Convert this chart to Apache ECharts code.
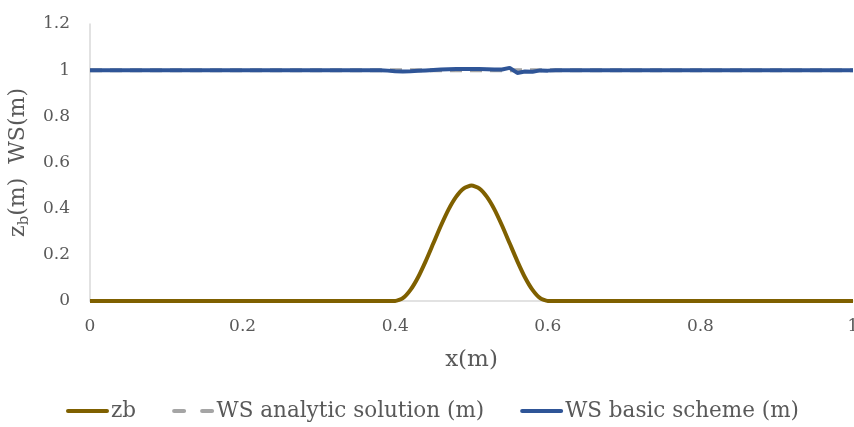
<!DOCTYPE html>
<html><head><meta charset="utf-8">
<script src="https://cdn.jsdelivr.net/npm/echarts@6/dist/echarts.min.js"></script>
<style>html,body{margin:0;padding:0;background:#fff}#c{width:854px;height:427px}</style>
</head><body><div id="c"></div>
<script>
// x positions (m)
const xs = [0, 0.1, 0.2, 0.3, 0.35, 0.38, 0.39, 0.40, 0.41, 0.42, 0.43, 0.44, 0.45, 0.46, 0.47, 0.48, 0.49, 0.50,
  0.51, 0.52, 0.53, 0.54, 0.55, 0.56, 0.57, 0.58, 0.59, 0.60, 0.61, 0.62, 0.65, 0.7, 0.8, 0.9, 1.0];
// bed elevation zb (m)
const zb = [0, 0, 0, 0, 0, 0, 0, 0, 0.012, 0.048, 0.103, 0.173, 0.25, 0.327, 0.397, 0.452, 0.488, 0.5,
  0.488, 0.452, 0.397, 0.327, 0.25, 0.173, 0.103, 0.048, 0.012, 0, 0, 0, 0, 0, 0, 0, 0];
// analytic water surface (m)
const wsAnalytic = [1, 1, 1, 1, 1, 1, 1, 1, 1, 1, 1, 1, 1, 1, 1, 1, 1, 1,
  1, 1, 1, 1, 1, 1, 1, 1, 1, 1, 1, 1, 1, 1, 1, 1, 1];
// basic scheme water surface (m)
const wsBasic = [1, 1, 1, 1, 1, 1, 0.998, 0.995, 0.994, 0.995, 0.997, 0.999, 1.001, 1.003, 1.004, 1.005, 1.005, 1.005,
  1.005, 1.004, 1.003, 1.003, 1.010, 0.988, 0.994, 0.993, 0.999, 0.998, 1, 1, 1, 1, 1, 1, 1];
const names = ['zb', 'WS analytic solution (m)', 'WS basic scheme (m)'];

const pairs = a => xs.map((x, i) => [x, a[i]]);
const FONT = 'DejaVu Serif';
const SOLID = 'path://M2,0 H41 A2,2 0 0 1 41,4 H2 A2,2 0 0 1 2,0 Z';
const DASHED = 'path://M2,0 H12 A2,2 0 0 1 12,4 H2 A2,2 0 0 1 2,0 Z M30,0 H40 A2,2 0 0 1 40,4 H30 A2,2 0 0 1 30,0 Z';
const chart = echarts.init(document.getElementById('c'));
chart.setOption({
  animation: false,
  backgroundColor: '#fff',
  textStyle: { fontFamily: FONT },
  grid: { left: 90, right: 1, top: 24, bottom: 126, outerBoundsMode: 'none', containLabel: false },
  legend: {
    bottom: 0, left: 61, itemGap: 36, itemWidth: 43, itemHeight: 4,
    textStyle: { fontFamily: FONT, fontSize: 21.5, color: '#595959', padding: [0, 0, 0, -3] },
    data: [
      { name: names[0], icon: SOLID },
      { name: names[1], icon: DASHED },
      { name: names[2], icon: SOLID }
    ]
  },
  xAxis: {
    type: 'value', min: 0, max: 1, interval: 0.2,
    name: 'x(m)', nameLocation: 'middle', nameGap: 48,
    nameTextStyle: { fontFamily: FONT, fontSize: 23, color: '#595959' },
    axisLine: { lineStyle: { color: '#D9D9D9', width: 1.5 } },
    axisTick: { show: false },
    splitLine: { show: false },
    axisLabel: { fontFamily: FONT, fontSize: 17, color: '#595959', margin: 17 }
  },
  yAxis: {
    type: 'value', min: 0, max: 1.2, interval: 0.2,
    name: '{n|z}{s|b}{n|(m)  WS(m)}', nameLocation: 'middle', nameGap: 52, nameRotate: 90,
    nameTextStyle: {
      color: '#595959',
      rich: {
        n: { fontFamily: FONT, fontSize: 22, color: '#595959', lineHeight: 28 },
        s: { fontFamily: FONT, fontSize: 15, color: '#595959', lineHeight: 28, verticalAlign: 'bottom', padding: [9, 0, 0, 0] }
      }
    },
    axisLine: { show: true, lineStyle: { color: '#D9D9D9', width: 1.5 } },
    axisTick: { show: false },
    splitLine: { show: false },
    axisLabel: { fontFamily: FONT, fontSize: 17, color: '#595959', margin: 20 }
  },
  series: [
    { name: names[0], type: 'line', data: pairs(zb), symbol: 'none', smooth: 0.2,
      lineStyle: { color: '#7F6000', width: 4 }, itemStyle: { color: '#7F6000' } },
    { name: names[1], type: 'line', data: pairs(wsAnalytic), symbol: 'none',
      lineStyle: { color: '#A5A5A5', width: 4, type: [12, 8] }, itemStyle: { color: '#A5A5A5' } },
    { name: names[2], type: 'line', data: pairs(wsBasic), symbol: 'none',
      lineStyle: { color: '#2F5597', width: 4 }, itemStyle: { color: '#2F5597' } }
  ]
});
</script></body></html>
